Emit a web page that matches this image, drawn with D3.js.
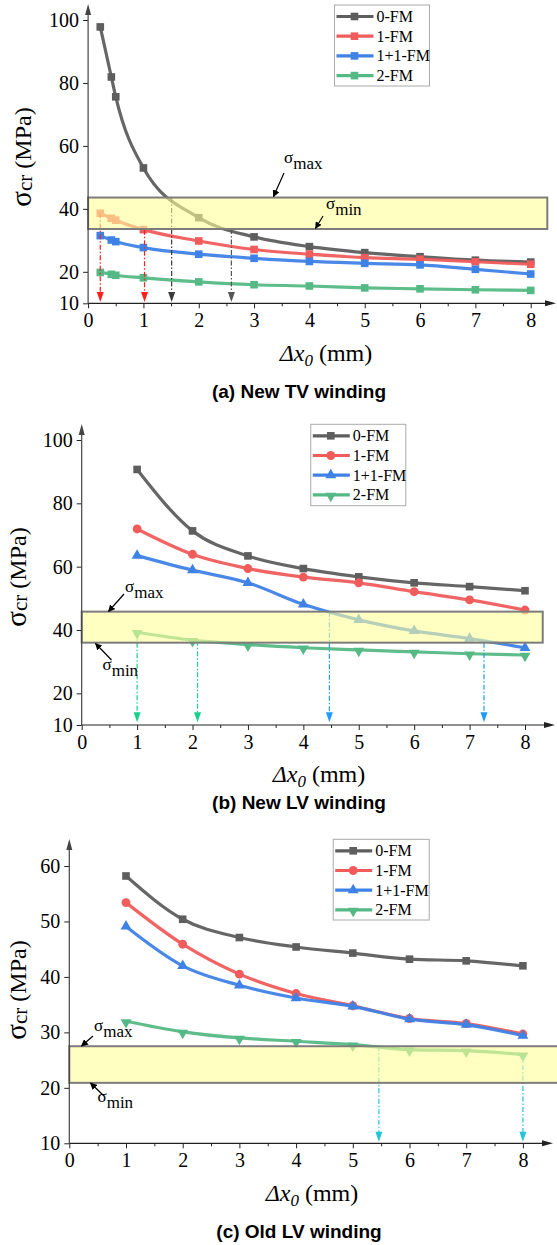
<!DOCTYPE html>
<html>
<head>
<meta charset="utf-8">
<script src="https://cdn.jsdelivr.net/npm/d3@7"></script>
<style>
  body { margin: 0; background: #fff; }
  svg { display: block; }
  text { font-family: "Liberation Serif", "Times New Roman", serif; fill: #000; }
</style>
</head>
<body>
<svg id="fig" width="557" height="1245"></svg>
<script>
// series shared by the three panels
const seriesNames = ["0-FM", "1-FM", "1+1-FM", "2-FM"];
const seriesColors = ["#5e5e5e", "#f05c5c", "#3f82e6", "#55b985"];

// (a) New TV winding
const xA = [0.22, 0.42, 0.5, 1, 2, 3, 4, 5, 6, 7, 8];
const a0FM = [97.8, 81.9, 75.6, 53.0, 37.2, 31.1, 28.0, 26.1, 24.8, 23.7, 23.1];
const a1FM = [38.6, 37.0, 36.4, 33.4, 29.8, 27.1, 25.6, 24.5, 24.0, 23.2, 22.4];
const a11FM = [31.5, 30.1, 29.6, 27.7, 25.6, 24.3, 23.3, 22.7, 22.2, 20.8, 19.3];
const a2FM = [19.8, 19.2, 18.9, 18.1, 16.8, 15.9, 15.5, 14.9, 14.6, 14.3, 14.1];
const bandA = [33.6, 43.6];
const arrowsA = [[0.22, 38.6], [1.02, 33.4], [1.51, 43.6], [2.59, 33.6]];
const yTicksA = [10, 20, 40, 60, 80, 100];

// (b) New LV winding
const xB = [1, 2, 3, 4, 5, 6, 7, 8];
const b0FM = [90.7, 71.3, 63.4, 59.4, 56.8, 54.9, 53.7, 52.4];
const b1FM = [71.9, 63.9, 59.4, 56.7, 54.9, 52.1, 49.5, 46.3];
const b11FM = [63.5, 58.9, 54.9, 48.1, 43.2, 39.7, 37.3, 34.4];
const b2FM = [39.3, 36.8, 35.4, 34.4, 33.7, 33.1, 32.5, 32.1];
const bandB = [36.0, 45.8];
const arrowsB = [[1, 39.3], [2.09, 36.6], [4.47, 45.8], [7.26, 36.0]];
const yTicksB = [10, 20, 40, 60, 80, 100];

// (c) Old LV winding
const xC = [1, 2, 3, 4, 5, 6, 7, 8];
const c0FM = [58.2, 50.4, 47.1, 45.4, 44.3, 43.2, 42.9, 42.0];
const c1FM = [53.4, 45.9, 40.5, 37.0, 34.8, 32.5, 31.6, 29.7];
const c11FM = [49.1, 42.0, 38.5, 36.2, 34.7, 32.4, 31.4, 29.4];
const c2FM = [32.0, 30.1, 29.0, 28.4, 27.8, 26.9, 26.7, 26.0];
const bandC = [20.9, 27.5];
const arrowsC = [[5.46, 27.5], [8, 26.0]];
const yTicksC = [10, 20, 30, 40, 50, 60];

const xTicks = [0, 1, 2, 3, 4, 5, 6, 7, 8];
const xMinorTicks = [0.5, 1.5, 2.5, 3.5, 4.5, 5.5, 6.5, 7.5];

const svg = d3.select("#fig");

// little black arrowhead for the sigma call-outs
svg.append("defs").append("marker")
    .attr("id", "tip")
    .attr("viewBox", "0 0 10 10")
    .attr("refX", 9).attr("refY", 5)
    .attr("markerWidth", 7).attr("markerHeight", 7)
    .attr("markerUnits", "userSpaceOnUse")
    .attr("orient", "auto")
    .append("path").attr("d", "M0,0 L10,5 L0,10 z").attr("fill", "#000");

const symSquare = d3.symbol().type(d3.symbolSquare).size(58);
const symCircle = d3.symbol().type(d3.symbolCircle).size(62);
const symTri = d3.symbol().type(d3.symbolTriangle).size(52);

function symbolPath(s) {
    if (s === "up" || s === "down") return symTri();
    return s === "circle" ? symCircle() : symSquare();
}
function symbolTransform(s, cx, cy) {
    return s === "down" ? `translate(${cx},${cy + 1}) rotate(180)` : `translate(${cx},${cy})`;
}

function sigmaLabel(g, x, y, sub) {
    const t = g.append("text").attr("x", x).attr("y", y).style("font-size", "17px");
    t.append("tspan").text("σ");
    t.append("tspan").attr("dy", 6).text(sub);
}

function drawPanel(p) {
    const g = svg.append("g");
    const x = d3.scaleLinear().domain([0, 8]).range(p.xRange);
    const y = d3.scaleLinear().domain([p.yTicks[0], p.yTicks[p.yTicks.length - 1]]).range(p.yRange);
    const y0 = p.yRange[0];
    const x0 = p.xRange[0];

    // 1. curves
    const line = d3.line().x(d => d[0]).y(d => d[1]).curve(d3.curveMonotoneX);
    p.series.forEach((vals, i) => {
        const pts = p.xs.map((xv, j) => [x(xv), y(vals[j])]);
        g.append("path")
            .attr("d", line(pts))
            .attr("fill", "none")
            .attr("stroke", seriesColors[i])
            .attr("stroke-width", 3.2)
            .attr("stroke-opacity", 0.95);
        g.selectAll(null).data(pts).enter().append("path")
            .attr("d", symbolPath(p.symbols[i]))
            .attr("transform", d => symbolTransform(p.symbols[i], d[0], d[1]))
            .attr("fill", seriesColors[i]);
    });

    // 2. dash-dot drop arrows
    p.arrows.forEach((a, i) => {
        const cx = x(a[0]);
        const tip = y(p.arrowEnd);
        const col = p.arrowColors[i];
        g.append("line")
            .attr("x1", cx).attr("x2", cx)
            .attr("y1", y(a[1])).attr("y2", tip - 6)
            .attr("stroke", col).attr("stroke-width", 1.2)
            .attr("stroke-dasharray", "5,2,1.5,2");
        g.append("path")
            .attr("d", `M${cx - 3.5},${tip - 10} L${cx + 3.5},${tip - 10} L${cx},${tip} z`)
            .attr("fill", col);
    });

    // 3. sigma band, drawn over the curves with transparency
    g.append("rect")
        .attr("x", x(0))
        .attr("y", y(p.band[1]))
        .attr("width", x(p.bandRight) - x(0))
        .attr("height", y(p.band[0]) - y(p.band[1]))
        .attr("fill", "#ffff99")
        .attr("fill-opacity", 0.6)
        .attr("stroke", "#7c7c7c")
        .attr("stroke-width", 2);

    // 4. axes
    const xAxis = g.append("g").attr("transform", `translate(0,${y0})`)
        .call(d3.axisBottom(x).tickValues(xTicks).tickSize(5).tickSizeOuter(0).tickPadding(5).tickFormat(d3.format("d")));
    const xMinor = g.append("g").attr("transform", `translate(0,${y0})`)
        .call(d3.axisBottom(x).tickValues(xMinorTicks).tickSize(3).tickSizeOuter(0).tickFormat(""));
    const yAxis = g.append("g").attr("transform", `translate(${x0},0)`)
        .call(d3.axisLeft(y).tickValues(p.yTicks).tickSize(5).tickSizeOuter(0).tickPadding(4).tickFormat(d3.format("d")));
    [xAxis, xMinor, yAxis].forEach(ax => {
        ax.select(".domain").remove();
        ax.selectAll("line").attr("stroke", "#222");
        ax.selectAll("text")
            .style("font-size", "20px")
            .style("font-family", "'Liberation Serif', serif");
    });
    g.append("line").attr("x1", x0).attr("x2", p.xArrow - 8).attr("y1", y0).attr("y2", y0)
        .attr("stroke", "#222").attr("stroke-width", 1.2);
    g.append("path").attr("d", `M${p.xArrow},${y0} L${p.xArrow - 11},${y0 - 3} L${p.xArrow - 11},${y0 + 3} z`).attr("fill", "#222");
    g.append("line").attr("x1", x0).attr("x2", x0).attr("y1", y0).attr("y2", p.yArrow + 8)
        .attr("stroke", "#444").attr("stroke-width", 1.2);
    g.append("path").attr("d", `M${x0},${p.yArrow} L${x0 - 3},${p.yArrow + 11} L${x0 + 3},${p.yArrow + 11} z`).attr("fill", "#444");

    // 5. axis titles and caption
    const yl = g.append("text")
        .attr("transform", `translate(${p.yTitle[0]},${p.yTitle[1]}) rotate(-90)`)
        .attr("text-anchor", "middle");
    yl.append("tspan").style("font-size", "29px").text("σ");
    yl.append("tspan").style("font-size", "21px").attr("dy", 1).text("cr");
    yl.append("tspan").style("font-size", "24px").attr("dy", -1).text(" (MPa)");

    const xl = g.append("text")
        .attr("x", p.xTitle[0]).attr("y", p.xTitle[1])
        .attr("text-anchor", "middle").style("font-size", "24px");
    xl.append("tspan").attr("font-style", "italic").text("Δx");
    xl.append("tspan").attr("font-style", "italic").style("font-size", "17px").attr("dy", 5).text("0");
    xl.append("tspan").attr("dy", -5).text(" (mm)");

    g.append("text")
        .attr("x", 299).attr("y", p.captionY)
        .attr("text-anchor", "middle")
        .style("font-family", "'Liberation Sans', Arial, sans-serif")
        .style("font-weight", "bold")
        .style("font-size", "19px")
        .text(p.caption);

    // 6. sigma call-outs
    sigmaLabel(g, p.maxLabel[0], p.maxLabel[1], "max");
    g.append("line")
        .attr("x1", p.maxArrow[0]).attr("y1", p.maxArrow[1])
        .attr("x2", p.maxArrow[2]).attr("y2", p.maxArrow[3])
        .attr("stroke", "#000").attr("stroke-width", 1.2).attr("marker-end", "url(#tip)");
    sigmaLabel(g, p.minLabel[0], p.minLabel[1], "min");
    g.append("line")
        .attr("x1", p.minArrow[0]).attr("y1", p.minArrow[1])
        .attr("x2", p.minArrow[2]).attr("y2", p.minArrow[3])
        .attr("stroke", "#000").attr("stroke-width", 1.2).attr("marker-end", "url(#tip)");

    // 7. legend
    const [lx, ly, lw, lh] = p.legend;
    const lg = g.append("g");
    lg.append("rect").attr("x", lx).attr("y", ly).attr("width", lw).attr("height", lh)
        .attr("fill", "#fff").attr("stroke", "#aaa").attr("stroke-width", 1);
    seriesNames.forEach((name, i) => {
        const ey = ly + 11.5 + i * 19.7;
        lg.append("line").attr("x1", lx + 2).attr("x2", lx + 39).attr("y1", ey).attr("y2", ey)
            .attr("stroke", seriesColors[i]).attr("stroke-width", 3.2);
        lg.append("path")
            .attr("d", symbolPath(p.symbols[i]))
            .attr("transform", symbolTransform(p.symbols[i], lx + 20, ey))
            .attr("fill", seriesColors[i]);
        lg.append("text").attr("x", lx + 42).attr("y", ey + 5.5).style("font-size", "16px").text(name);
    });
}

drawPanel({
    xs: xA, series: [a0FM, a1FM, a11FM, a2FM],
    symbols: ["square", "square", "square", "square"],
    yTicks: yTicksA, xRange: [88.1, 530.7], yRange: [303.3, 20],
    xArrow: 556, yArrow: 4,
    band: bandA, bandRight: 8.3,
    arrows: arrowsA, arrowEnd: 10.4, arrowColors: ["#ff1f1f", "#ff1f1f", "#3a3a3a", "#555"],
    yTitle: [31, 157], xTitle: [326, 361], caption: "(a) New TV winding", captionY: 398,
    maxLabel: [284, 163], maxArrow: [284, 173, 273.5, 196.5],
    minLabel: [326, 209], minArrow: [323, 216, 315.5, 228.5],
    legend: [334.5, 5, 95, 81]
});

drawPanel({
    xs: xB, series: [b0FM, b1FM, b11FM, b2FM],
    symbols: ["square", "circle", "up", "down"],
    yTicks: yTicksB, xRange: [81.7, 525], yRange: [725, 440],
    xArrow: 555, yArrow: 424,
    band: bandB, bandRight: 8.32,
    arrows: arrowsB, arrowEnd: 10.9, arrowColors: ["#16d08c", "#16d08c", "#1f9bff", "#1f9bff"],
    yTitle: [26, 577], xTitle: [319, 782], caption: "(b) New LV winding", captionY: 809,
    maxLabel: [125, 592], maxArrow: [124, 594, 108.5, 611.5],
    minLabel: [102.5, 670], minArrow: [111.5, 660, 95.5, 643.5],
    legend: [310.8, 424.3, 95, 81.4]
});

drawPanel({
    xs: xC, series: [c0FM, c1FM, c11FM, c2FM],
    symbols: ["square", "circle", "up", "down"],
    yTicks: yTicksC, xRange: [69.3, 522.9], yRange: [1143.3, 866],
    xArrow: 553, yArrow: 839,
    band: bandC, bandRight: 8.8,
    arrows: arrowsC, arrowEnd: 10.3, arrowColors: ["#22c6d4", "#22c6d4"],
    yTitle: [26, 990], xTitle: [312, 1201], caption: "(c) Old LV winding", captionY: 1238,
    maxLabel: [94, 1031], maxArrow: [93, 1036, 81.5, 1046],
    minLabel: [97.5, 1102], minArrow: [104, 1096, 90.5, 1083],
    legend: [333.2, 839.3, 96, 80.7]
});
</script>
</body>
</html>
